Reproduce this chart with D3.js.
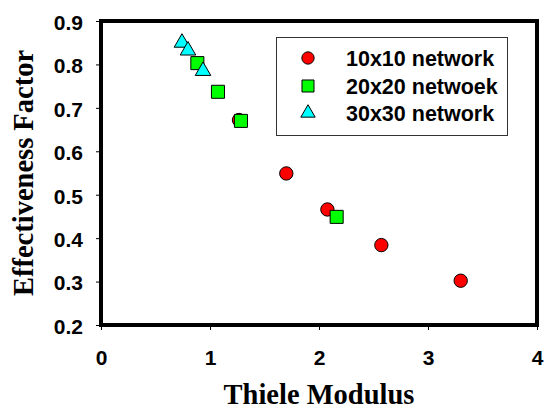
<!DOCTYPE html>
<html>
<head>
<meta charset="utf-8">
<script src="https://cdn.jsdelivr.net/npm/d3@7"></script>
<style>
  html, body { margin: 0; padding: 0; background: #fff; }
  svg { display: block; }
</style>
</head>
<body>
<svg id="chart" width="545" height="410"></svg>
<script>
// Effectiveness factor vs. Thiele modulus for three network sizes
const net10x10 = [[1.266, 0.672], [1.70, 0.549], [2.077, 0.466], [2.572, 0.384], [3.30, 0.302]];
const net20x20 = [[0.884, 0.803], [1.073, 0.737], [1.284, 0.670], [2.162, 0.449]];
const net30x30 = [[0.743, 0.850], [0.798, 0.832], [0.936, 0.785]];

const seriesNames = ["10x10 network", "20x20 netwoek", "30x30 network"];
const xTicks = [0, 1, 2, 3, 4];
const yTicks = [0.2, 0.3, 0.4, 0.5, 0.6, 0.7, 0.8, 0.9];

const svg = d3.select("#chart");
const plot = { left: 101, top: 21, right: 537, bottom: 325 };

const x = d3.scaleLinear().domain([0, 4]).range([plot.left, plot.right]);
const y = d3.scaleLinear().domain([0.2, 0.9]).range([plot.bottom, plot.top]);

// axes with small outward ticks
const xAxis = svg.append("g")
  .attr("transform", `translate(0,${plot.bottom})`)
  .call(d3.axisBottom(x).tickValues(xTicks).tickFormat(d3.format("d")).tickSize(5).tickPadding(17));
const yAxis = svg.append("g")
  .attr("transform", `translate(${plot.left},0)`)
  .call(d3.axisLeft(y).tickValues(yTicks).tickFormat(d3.format(".1f")).tickSize(5).tickPadding(13));

[xAxis, yAxis].forEach(g => {
  g.select(".domain").remove();
  g.selectAll(".tick line").attr("stroke", "#000").attr("stroke-width", 1);
  g.selectAll(".tick text")
    .attr("fill", "#000")
    .style("font-family", "Arial, 'Liberation Sans', sans-serif")
    .style("font-weight", "bold")
    .style("font-size", "21px");
});
yAxis.selectAll(".tick text").attr("dy", "0.4em");
xAxis.selectAll(".tick text").attr("dy", "0.85em");

// plot frame
svg.append("rect")
  .attr("x", plot.left).attr("y", plot.top)
  .attr("width", plot.right - plot.left).attr("height", plot.bottom - plot.top)
  .attr("fill", "none").attr("stroke", "#000").attr("stroke-width", 4);

// axis titles
svg.append("text")
  .attr("x", (plot.left + plot.right) / 2).attr("y", 404)
  .attr("text-anchor", "middle")
  .style("font-family", "'Times New Roman', 'Liberation Serif', serif")
  .style("font-weight", "bold").style("font-size", "28.5px")
  .text("Thiele Modulus");
svg.append("text")
  .attr("transform", `translate(33,${(plot.top + plot.bottom) / 2}) rotate(-90)`)
  .attr("text-anchor", "middle")
  .style("font-family", "'Times New Roman', 'Liberation Serif', serif")
  .style("font-weight", "bold").style("font-size", "28.5px")
  .text("Effectiveness Factor");

const series = [
  { name: seriesNames[0], data: net10x10, symbol: d3.symbolCircle, size: 140, fill: "#ff0000" },
  { name: seriesNames[1], data: net20x20, symbol: d3.symbolSquare, size: 170, fill: "#00ff00" },
  { name: seriesNames[2], data: net30x30, symbol: d3.symbolTriangle, size: 105, fill: "#00ffff" }
];

series.forEach(s => {
  svg.append("g").selectAll("path")
    .data(s.data)
    .join("path")
    .attr("transform", d => `translate(${x(d[0])},${y(d[1])})`)
    .attr("d", d3.symbol().type(s.symbol).size(s.size))
    .attr("fill", s.fill)
    .attr("stroke", "#000")
    .attr("stroke-width", 1);
});

// legend
const legend = svg.append("g");
legend.append("rect")
  .attr("x", 276.5).attr("y", 37.5).attr("width", 231).attr("height", 98)
  .attr("fill", "#fff").attr("stroke", "#333").attr("stroke-width", 1);
const rowY = [58, 86, 113];
series.forEach((s, i) => {
  legend.append("path")
    .attr("transform", `translate(308,${rowY[i]})`)
    .attr("d", d3.symbol().type(s.symbol).size(s.size * 0.85))
    .attr("fill", s.fill).attr("stroke", "#000").attr("stroke-width", 1);
  legend.append("text")
    .attr("x", 346).attr("y", rowY[i]).attr("dy", "0.36em")
    .style("font-family", "Arial, 'Liberation Sans', sans-serif")
    .style("font-weight", "bold").style("font-size", "21.5px")
    .text(s.name);
});
</script>
</body>
</html>
